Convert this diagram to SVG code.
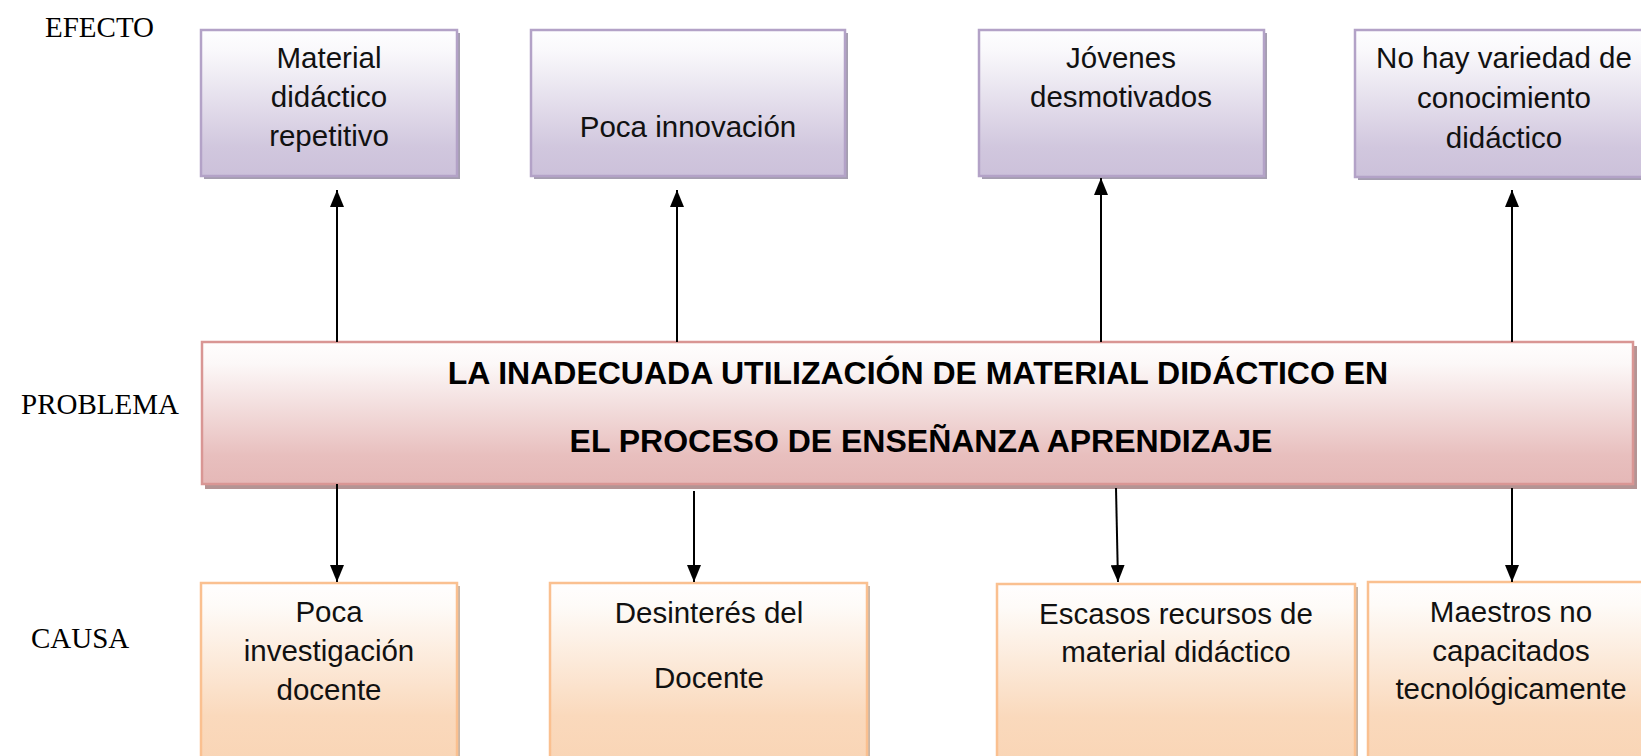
<svg xmlns="http://www.w3.org/2000/svg" width="1641" height="756" viewBox="0 0 1641 756">
<style>
.lbl{font-family:"Liberation Serif","Times New Roman",serif;font-size:29px;fill:#000}
.t{font-family:"Liberation Sans",Arial,sans-serif;font-size:29.5px;fill:#111;text-anchor:middle}
.tb{font-family:"Liberation Sans",Arial,sans-serif;font-size:32px;font-weight:bold;fill:#000;text-anchor:middle}
.eff{fill:url(#gEff);stroke:#b3a2c7;stroke-width:2.5}
.prob{fill:url(#gProb);stroke:#d99694;stroke-width:2.5}
.cau{fill:url(#gCau);stroke:#fac090;stroke-width:2.5}
.shE{fill:#a59eb0}
.shP{fill:#b49494}
.shC{fill:#c9b6a6}
.ln{stroke:#000;stroke-width:2;fill:none;marker-end:url(#ah)}
</style>
<defs>
<linearGradient id="gEff" x1="0" y1="0" x2="0" y2="1">
<stop offset="0" stop-color="#fefeff"/><stop offset="0.15" stop-color="#f9f8fb"/><stop offset="0.8" stop-color="#d1c7de"/><stop offset="1" stop-color="#ccc1da"/>
</linearGradient>
<linearGradient id="gProb" x1="0" y1="0" x2="0" y2="1">
<stop offset="0" stop-color="#fffefe"/><stop offset="0.15" stop-color="#fcf8f8"/><stop offset="0.8" stop-color="#e8bfbe"/><stop offset="1" stop-color="#e5b8b7"/>
</linearGradient>
<linearGradient id="gCau" x1="0" y1="0" x2="0" y2="1">
<stop offset="0" stop-color="#fffefe"/><stop offset="0.12" stop-color="#fefbf8"/><stop offset="0.7" stop-color="#fad9bc"/><stop offset="1" stop-color="#f9d4b4"/>
</linearGradient>
<marker id="ah" markerUnits="userSpaceOnUse" markerWidth="17" markerHeight="14" refX="17" refY="7" orient="auto">
<path d="M0,0 L17,7 L0,14 z" fill="#000"/>
</marker>
</defs>

<g id="labels">
<text class="lbl" x="45" y="37">EFECTO</text>
<text class="lbl" x="21" y="414">PROBLEMA</text>
<text class="lbl" x="31" y="648">CAUSA</text>
</g>

<g id="effect1">
<rect class="shE" x="204" y="33" width="256" height="146"/>
<rect class="eff" x="201" y="30" width="256" height="146"/>
<text class="t" x="329" y="68">Material</text>
<text class="t" x="329" y="107">didáctico</text>
<text class="t" x="329" y="146">repetitivo</text>
</g>
<g id="effect2">
<rect class="shE" x="534" y="33" width="314" height="146"/>
<rect class="eff" x="531" y="30" width="314" height="146"/>
<text class="t" x="688" y="137">Poca innovación</text>
</g>
<g id="effect3">
<rect class="shE" x="982" y="33" width="285" height="146"/>
<rect class="eff" x="979" y="30" width="285" height="146"/>
<text class="t" x="1121" y="68">Jóvenes</text>
<text class="t" x="1121" y="107">desmotivados</text>
</g>
<g id="effect4">
<rect class="shE" x="1358" y="33" width="300" height="147"/>
<rect class="eff" x="1355" y="30" width="300" height="147"/>
<text class="t" x="1504" y="68">No hay variedad de</text>
<text class="t" x="1504" y="108">conocimiento</text>
<text class="t" x="1504" y="148">didáctico</text>
</g>

<g id="problem">
<rect class="shP" x="205" y="346" width="1432" height="143"/>
<rect class="prob" x="202" y="342" width="1431" height="142"/>
<text class="tb" x="918" y="384">LA INADECUADA UTILIZACIÓN DE MATERIAL DIDÁCTICO EN</text>
<text class="tb" x="921" y="452">EL PROCESO DE ENSEÑANZA APRENDIZAJE</text>
</g>

<g id="cause1">
<rect class="shC" x="204" y="586" width="256" height="190"/>
<rect class="cau" x="201" y="583" width="256" height="190"/>
<text class="t" x="329" y="622">Poca</text>
<text class="t" x="329" y="661">investigación</text>
<text class="t" x="329" y="700">docente</text>
</g>
<g id="cause2">
<rect class="shC" x="553" y="586" width="317" height="190"/>
<rect class="cau" x="550" y="583" width="317" height="190"/>
<text class="t" x="709" y="623">Desinterés del</text>
<text class="t" x="709" y="688">Docente</text>
</g>
<g id="cause3">
<rect class="shC" x="1000" y="587" width="358" height="190"/>
<rect class="cau" x="997" y="584" width="358" height="190"/>
<text class="t" x="1176" y="624">Escasos recursos de</text>
<text class="t" x="1176" y="662">material didáctico</text>
</g>
<g id="cause4">
<rect class="shC" x="1371" y="585" width="290" height="190"/>
<rect class="cau" x="1368" y="582" width="290" height="190"/>
<text class="t" x="1511" y="622">Maestros no</text>
<text class="t" x="1511" y="661">capacitados</text>
<text class="t" x="1511" y="699">tecnológicamente</text>
</g>

<g id="connectors">
<line class="ln" x1="337" y1="342" x2="337" y2="190"/>
<line class="ln" x1="677" y1="342" x2="677" y2="190"/>
<line class="ln" x1="1101" y1="342" x2="1101" y2="178"/>
<line class="ln" x1="1512" y1="342" x2="1512" y2="190"/>
<line class="ln" x1="337" y1="484" x2="337" y2="582"/>
<line class="ln" x1="694" y1="491" x2="694" y2="582"/>
<line class="ln" x1="1116" y1="488" x2="1118" y2="582"/>
<line class="ln" x1="1512" y1="488" x2="1512" y2="582"/>
</g>
</svg>
